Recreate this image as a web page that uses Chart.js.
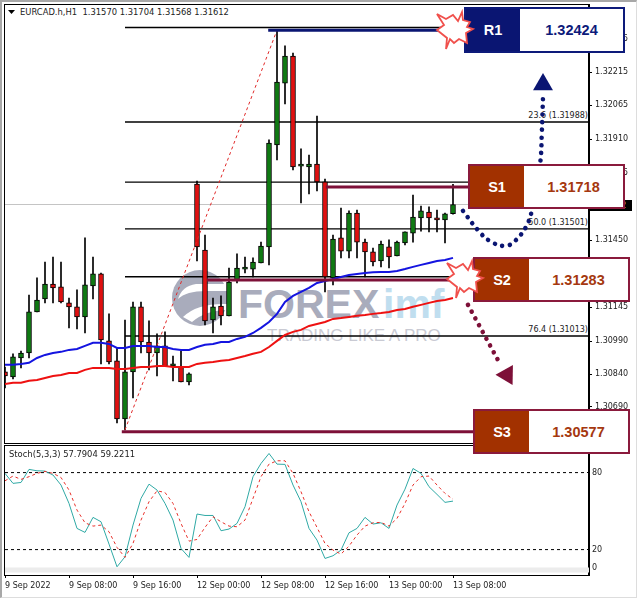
<!DOCTYPE html>
<html lang="en">
<head>
<meta charset="UTF-8">
<title>EURCAD H1</title>
<script src="https://cdn.jsdelivr.net/npm/chart.js"></script>
<style>
  html, body { margin: 0; padding: 0; background: #fff; }
  #page { position: relative; width: 637px; height: 598px; overflow: hidden; font-family: "DejaVu Sans", sans-serif; }
  #page > * { position: absolute; }
  canvas { left: 0; }
  .outer { left: 0; top: 0; width: 634px; height: 595px; border: solid #a8a8a8; border-width: 2px 1px 1px 2px; border-right-color: #ddd; border-bottom-color: #ddd; box-sizing: content-box; }
  .frame { left: 4px; width: 585px; border: 1px solid #000; box-sizing: border-box; }
  .label { font-size: 8.4px; color: #222; white-space: pre; line-height: 10px; }
  .fib { right: 49px; font-size: 8px; color: #222; line-height: 10px; }
  .bid { left: 589px; top: 200px; width: 43px; height: 11px; background: #000; color: #fff; font-size: 8px; line-height: 11px; padding-left: 4px; box-sizing: border-box; }
  .box { display: flex; box-sizing: border-box; border: 2.5px solid; background: #fff; height: 45px; width: 157px; font: bold 14.5px "Liberation Sans", Arial, sans-serif; align-items: stretch; }
  .box b { display: flex; width: 54px; align-items: center; justify-content: center; color: #fff; }
  .box span { display: flex; flex: 1; align-items: center; justify-content: center; }
  .navy { border-color: #0d1a7a; color: #0d1a7a; }
  .navy b { background: #0a1572; }
  .rust { border-color: #8a1a3c; color: #a5380f; }
  .rust b { background: #a23100; }
  svg { left: 0; top: 0; }
</style>
</head>
<body>
<div id="page">
  <div class="outer"></div>
  <div class="frame" style="top:4px;height:440px"></div>
  <div class="frame" style="top:445px;height:131px"></div>

  <svg width="637" height="598" style="font-family:'Liberation Sans',Arial,sans-serif">
    <circle cx="200" cy="298" r="28" fill="#a9acbc"/>
    <path d="M178 299 Q186 291 206 291 L228 291 L228 284 L196 284 Q182 286 178 299Z" fill="#fff"/>
    <path d="M183 317 Q197 303 228 304 L228 310 Q206 310 192 322Z" fill="#fff"/>
    <text x="238" y="318" font-size="41" font-weight="bold" fill="#a9acbc">FOREX</text>
    <text x="383" y="318" font-size="41" font-weight="bold" fill="#c0deef">imf</text>
    <text x="267" y="341" font-size="17" fill="#c9cad3">TRADING LIKE A PRO</text>
  </svg>

  <div class="label" style="left:20px;top:7px">EURCAD.h,H1  1.31570 1.31704 1.31568 1.31612</div>
  <svg width="20" height="20"><polygon points="8,10 15,10 11.5,14" fill="#000"/></svg>
  <div class="fib" style="top:111px">23.6 (1.31988)</div>
  <div class="fib" style="top:218px">50.0 (1.31501)</div>
  <div class="fib" style="top:325px">76.4 (1.31013)</div>

  <canvas id="priceChart" width="637" height="444" style="top:0"></canvas>
  <canvas id="stochChart" width="637" height="154" style="top:444px"></canvas>

  <div class="label" style="left:9px;top:449px">Stoch(5,3,3) 57.7904 59.2211</div>
  <div class="bid">1.31612</div>

  <svg width="637" height="598">
    <defs>
      <polygon id="burst" fill="#fff" stroke="#f0504c" stroke-width="1.8" stroke-linejoin="miter"
        points="-18,-16 -9,-11 -2,-15 3,-9 7,-18 8,-10 15,-8 12,-3 18,-1 11,3 12,13 4,9 -1,13 -5,9 -9,19 -8,8 -18,0 -11,-5"/>
    </defs>
  </svg>

  <div class="box navy" style="left:464px;top:7px;height:46px;width:161px"><b>R1</b><span>1.32424</span></div>
  <div class="box rust" style="left:468px;top:164px"><b>S1</b><span>1.31718</span></div>
  <div class="box rust" style="left:473px;top:257px"><b>S2</b><span>1.31283</span></div>
  <div class="box rust" style="left:473px;top:409px"><b>S3</b><span>1.30577</span></div>

  <svg width="637" height="598">
    <use href="#burst" x="455" y="30"/>
    <use href="#burst" x="465" y="279"/>
  </svg>
</div>

<script>
// hourly bars, 9 Sep 2022 00:00 to 13 Sep 2022 08:00
const opens = [1.30850,1.30827,1.30913,1.30936,1.31123,1.31182,1.31250,1.31237,1.31164,1.31146,1.31100,1.31241,1.31296,1.30991,1.30900,1.30636,1.30850,1.31146,1.30986,1.30936,1.30968,1.30877,1.30872,1.30804,1.31705,1.31405,1.31086,1.31150,1.31105,1.31268,1.31318,1.31318,1.31346,1.31419,1.31883,1.32165,1.32288,1.31787,1.31783,1.31796,1.31715,1.31278,1.31460,1.31400,1.31573,1.31441,1.31396,1.31355,1.31419,1.31378,1.31437,1.31482,1.31551,1.31578,1.31546,1.31542,1.31570];
const highs = [1.30872,1.30932,1.30945,1.31200,1.31278,1.31350,1.31373,1.31350,1.31186,1.31223,1.31460,1.31373,1.31300,1.31114,1.30959,1.31086,1.31168,1.31168,1.31082,1.31023,1.31032,1.30922,1.30945,1.30845,1.31719,1.31473,1.31186,1.31196,1.31323,1.31387,1.31373,1.31369,1.31441,1.31906,1.32406,1.32334,1.32302,1.31865,1.31837,1.32015,1.31728,1.31473,1.31596,1.31583,1.31587,1.31455,1.31414,1.31446,1.31451,1.31446,1.31487,1.31655,1.31605,1.31601,1.31587,1.31573,1.31704];
const lows = [1.30777,1.30818,1.30868,1.30913,1.31123,1.31164,1.31164,1.31164,1.31050,1.31045,1.31027,1.31182,1.30886,1.30886,1.30617,1.30586,1.30731,1.30936,1.30859,1.30831,1.30877,1.30809,1.30804,1.30790,1.31355,1.31064,1.31027,1.31064,1.31105,1.31255,1.31300,1.31282,1.31346,1.31337,1.31815,1.32070,1.31769,1.31619,1.31660,1.31674,1.31214,1.31246,1.31369,1.31369,1.31369,1.31282,1.31332,1.31328,1.31323,1.31378,1.31428,1.31441,1.31491,1.31487,1.31487,1.31437,1.31568];
const closes = [1.30831,1.30918,1.30936,1.31123,1.31177,1.31250,1.31232,1.31168,1.31146,1.31100,1.31246,1.31296,1.30995,1.30895,1.30636,1.30850,1.31146,1.30986,1.30936,1.30968,1.30877,1.30877,1.30804,1.30841,1.31419,1.31082,1.31146,1.31105,1.31259,1.31323,1.31318,1.31350,1.31423,1.31892,1.32170,1.32288,1.31783,1.31787,1.31796,1.31715,1.31282,1.31455,1.31400,1.31573,1.31441,1.31396,1.31350,1.31432,1.31373,1.31441,1.31487,1.31555,1.31583,1.31551,1.31542,1.31569,1.31612];
const maBlue = [1.30882,1.30882,1.30886,1.30891,1.30913,1.30927,1.30936,1.30941,1.30950,1.30954,1.30968,1.30982,1.30982,1.30977,1.30959,1.30959,1.30968,1.30968,1.30968,1.30963,1.30963,1.30954,1.30950,1.30950,1.30963,1.30973,1.30977,1.30986,1.30986,1.31000,1.31009,1.31027,1.31050,1.31077,1.31114,1.31168,1.31196,1.31214,1.31232,1.31255,1.31264,1.31273,1.31282,1.31291,1.31296,1.31300,1.31303,1.31305,1.31305,1.31309,1.31318,1.31328,1.31337,1.31346,1.31355,1.31359,1.31369];
const maRed = [1.30795,1.30800,1.30800,1.30809,1.30813,1.30822,1.30831,1.30836,1.30845,1.30845,1.30859,1.30868,1.30868,1.30868,1.30863,1.30863,1.30868,1.30872,1.30872,1.30877,1.30877,1.30872,1.30872,1.30872,1.30886,1.30891,1.30895,1.30900,1.30904,1.30913,1.30922,1.30932,1.30941,1.30963,1.30991,1.31018,1.31032,1.31041,1.31059,1.31068,1.31077,1.31091,1.31095,1.31100,1.31105,1.31109,1.31114,1.31118,1.31123,1.31132,1.31136,1.31146,1.31155,1.31164,1.31173,1.31177,1.31186];
const stochK = [79.4,71.6,72.3,82.5,81.4,81.2,78.1,70.3,56.0,36.5,33.4,45.1,41.7,24.3,6.6,14.4,39.1,59.9,71.0,66.4,56.0,43.0,20.9,13.9,47.7,46.6,46.6,34.7,36.0,40.4,53.4,76.8,87.1,94.9,86.6,86.4,70.3,57.3,36.5,27.4,13.1,15.2,19.6,33.1,36.5,45.1,39.9,40.9,36.5,54.7,67.1,83.2,79.4,69.0,63.0,56.8,57.79];
const stochD = [73.6,77.3,74.7,76.8,79.4,80.9,79.4,76.2,66.4,50.8,40.9,38.3,39.1,33.9,21.7,13.9,24.8,43.0,57.3,65.8,64.5,56.0,40.4,26.6,27.9,37.3,45.6,41.7,38.3,37.8,43.0,59.9,76.8,86.6,89.2,89.2,79.4,65.1,49.5,37.3,24.8,19.6,16.5,22.7,31.3,38.3,40.9,41.2,38.3,44.3,56.0,70.3,76.8,77.3,70.3,63.8,59.22];

const priceTicks = [1.32365,1.32215,1.32065,1.31910,1.31755,1.31605,1.31450,1.31300,1.31145,1.30990,1.30840,1.30690,1.30535];
const timeTickBars = [0,8,16,24,32,40,48,56];
const timeTickLabels = ['9 Sep 2022','9 Sep 08:00','9 Sep 16:00','12 Sep 00:00','12 Sep 08:00','12 Sep 16:00','13 Sep 00:00','13 Sep 08:00'];
const stochTickSpots = [96,80,20,5.6];
const stochTickLabels = ['100','80','20','0'];

const fibPrices = [1.32418,1.31988,1.31714,1.31501,1.31283,1.31013,1.30577];
const bidPrice = 1.31612;
// level: start bar, end bar, price
const r1Level = [32.9,54.4,1.32406];
const supportLevels = [[40.1,57.9,1.31692],[25.25,55.6,1.31268],[14.6,58.5,1.30577]];
const fibTrend = [[15,1.30586],[34,1.32406]];
// drawn forecast paths: bar, price
const upPath = [[57.25,1.31583],[59.1,1.31496],[60.6,1.31446],[62.5,1.31423],[63.75,1.31446],[65.25,1.31519],[66,1.31610],[66.9,1.31801],[67.1,1.31938],[67.25,1.32101]];
const upHead = [67.25,1.32158];
const downPath = [[57.875,1.31155],[61.75,1.30895]];
const downHead = [62.75,1.30836];

const LAST_X = 73;
const NAVY = '#0a1572', MAROON = '#7d1038';
const tickFont = { family: '"DejaVu Sans", sans-serif', size: 8 };
const toXY = p => ({ x: p[0], y: p[1] });

function hline(from, to, y, color, width, dash, order) {
  return { type: 'line', data: [{ x: from, y: y }, { x: to, y: y }], borderColor: color, borderWidth: width,
    borderDash: dash || [], pointRadius: 0, order: order };
}
function series(values, color, width, dash, order) {
  return { type: 'line', data: values.map((v, i) => ({ x: i, y: v })), borderColor: color, borderWidth: width,
    borderDash: dash || [], pointRadius: 0, tension: 0, order: order };
}

const noPlugins = { legend: { display: false }, tooltip: { enabled: false } };

const priceDatasets = [];
fibPrices.forEach(p => priceDatasets.push(hline(15, LAST_X, p, '#000', 1.4, null, 50)));
priceDatasets.push(hline(0, LAST_X, bidPrice, '#c4c4c4', 1, null, 60));
priceDatasets.push({ type: 'bar', data: opens.map((o, i) => ({ x: i, y: [lows[i], highs[i]] })), backgroundColor: '#000',
  barThickness: 1, grouped: false, order: 30 });
priceDatasets.push({ type: 'bar', data: opens.map((o, i) => ({ x: i, y: [o, closes[i]] })),
  backgroundColor: opens.map((o, i) => closes[i] >= o ? '#0f7a12' : '#e01010'), borderColor: '#000', borderWidth: 1,
  borderSkipped: false, barThickness: 5, minBarLength: 2, grouped: false, order: 29 });
priceDatasets.push(series(maRed, '#ee1111', 2, null, 20));
priceDatasets.push(series(maBlue, '#1414e0', 2, null, 19));
priceDatasets.push({ type: 'line', data: fibTrend.map(toXY), borderColor: '#e02828', borderWidth: 1, borderDash: [3, 3], pointRadius: 0, order: 15 });
priceDatasets.push(hline(r1Level[0], r1Level[1], r1Level[2], NAVY, 3, null, 10));
supportLevels.forEach(l => priceDatasets.push(hline(l[0], l[1], l[2], MAROON, 3, null, 10)));
priceDatasets.push({ type: 'line', data: upPath.map(toXY), borderColor: NAVY, borderWidth: 4.6, borderDash: [0.01, 7.7],
  borderCapStyle: 'round', tension: 0.4, pointRadius: 0, order: 5 });
priceDatasets.push({ type: 'line', data: downPath.map(toXY), borderColor: MAROON, borderWidth: 4.6, borderDash: [0.01, 7.7],
  borderCapStyle: 'round', pointRadius: 0, order: 5 });
priceDatasets.push({ type: 'scatter', data: [toXY(upHead)], pointStyle: 'triangle', pointRadius: 11.5,
  backgroundColor: NAVY, borderColor: NAVY, borderWidth: 0, order: 4 });
priceDatasets.push({ type: 'scatter', data: [toXY(downHead)], pointStyle: 'triangle', pointRadius: 11.5, pointRotation: 151,
  backgroundColor: MAROON, borderColor: MAROON, borderWidth: 0, order: 4 });

new Chart(document.getElementById('priceChart'), {
  data: { datasets: priceDatasets },
  options: {
    responsive: false, animation: false, events: [],
    layout: { autoPadding: false, padding: { left: 5, top: 4, right: 0, bottom: 1 } },
    plugins: noPlugins,
    scales: {
      x: { type: 'linear', offset: false, min: 0, max: LAST_X, display: false },
      y: {
        type: 'linear', position: 'right', min: 1.30526, max: 1.32525,
        grid: { drawOnChartArea: false, tickLength: 3, tickColor: '#000' },
        border: { color: '#000' },
        ticks: { font: tickFont, color: '#222', padding: 3, autoSkip: false, callback: v => v.toFixed(5) },
        afterBuildTicks: s => { s.ticks = priceTicks.map(v => ({ value: v })); },
        afterFit: s => { s.width = 48; s.paddingTop = 0; s.paddingBottom = 0; }
      }
    }
  }
});

new Chart(document.getElementById('stochChart'), {
  data: { datasets: [
    hline(0, LAST_X, 4, '#ececec', 5, null, 60),
    hline(0, LAST_X, 80, '#000', 1, [3, 3], 50),
    hline(0, LAST_X, 20, '#000', 1, [3, 3], 50),
    series(stochK, '#2fa9a5', 1, null, 20),
    series(stochD, '#e8302a', 1, [3, 3], 19)
  ] },
  options: {
    responsive: false, animation: false, events: [],
    layout: { autoPadding: false, padding: { left: 5, top: 1, right: 0, bottom: 0 } },
    plugins: noPlugins,
    scales: {
      x: {
        type: 'linear', position: 'bottom', min: 0, max: LAST_X,
        grid: { drawOnChartArea: false, tickLength: 3, tickColor: '#000' },
        border: { color: '#000' },
        ticks: { font: tickFont, color: '#222', padding: 3, align: 'start', maxRotation: 0, autoSkip: false,
          callback: (v, i) => timeTickLabels[i] },
        afterBuildTicks: s => { s.ticks = timeTickBars.map(v => ({ value: v })); },
        afterFit: s => { s.height = 23; s.paddingLeft = 0; s.paddingRight = 0; }
      },
      y: {
        type: 'linear', position: 'right', min: 0.2, max: 101.5,
        grid: { drawOnChartArea: false, drawTicks: false },
        border: { color: '#000' },
        ticks: { font: tickFont, color: '#222', padding: 3, autoSkip: false, callback: (v, i) => stochTickLabels[i] },
        afterBuildTicks: s => { s.ticks = stochTickSpots.map(v => ({ value: v })); },
        afterFit: s => { s.width = 48; s.paddingTop = 0; s.paddingBottom = 0; }
      }
    }
  }
});
</script>
</body>
</html>
